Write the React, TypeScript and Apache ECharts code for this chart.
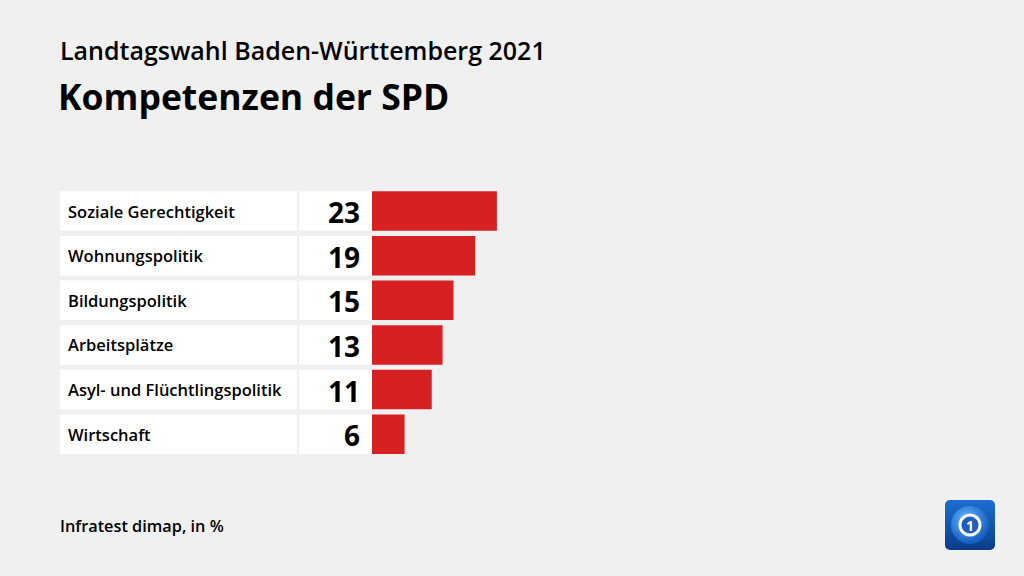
import React, { useEffect, useRef } from "react";
import * as echarts from "echarts";

const categories = [
  "Soziale Gerechtigkeit",
  "Wohnungspolitik",
  "Bildungspolitik",
  "Arbeitsplätze",
  "Asyl- und Flüchtlingspolitik",
  "Wirtschaft",
];
const values = [23, 19, 15, 13, 11, 6];

const title = "Landtagswahl Baden-Württemberg 2021";
const subtitle = "Kompetenzen der SPD";
const source = "Infratest dimap, in %";

const FONT = "'Open Sans', sans-serif";

export default function App() {
  const ref = useRef<HTMLDivElement>(null);
  useEffect(() => {
    document.body.style.margin = "0";
    if (!ref.current) return;
    const chart = echarts.init(ref.current, undefined, { renderer: "svg" });
    chart.setOption({
      animation: false,
      backgroundColor: "#f0f0f0",
      grid: { left: 372, width: 543, top: 188.7, height: 267.8 },
      xAxis: { type: "value", min: 0, max: 100, show: false },
      yAxis: {
        type: "category",
        data: categories,
        inverse: true,
        show: false,
      },
      series: [
        {
          type: "custom",
          data: values.map((v, i) => [v, i]),
          encode: { x: 0, y: 1 },
          z: 1,
          renderItem: (params: any, api: any) => {
            const v = api.value(0);
            const i = api.value(1);
            const [x0, yc] = api.coord([0, i]);
            const band = api.size([0, 1])[1];
            const h = band * 0.885;
            const top = yc - h / 2;
            return {
              type: "group",
              children: [
                {
                  type: "rect",
                  shape: { x: x0 - 312, y: top, width: 237, height: h },
                  style: { fill: "#ffffff" },
                },
                {
                  type: "rect",
                  shape: { x: x0 - 73, y: top, width: 73, height: h },
                  style: { fill: "#ffffff" },
                },
                {
                  type: "text",
                  style: {
                    x: x0 - 304,
                    y: yc,
                    text: categories[i],
                    fill: "#000",
                    font: `600 16.5px ${FONT}`,
                    verticalAlign: "middle",
                    align: "left",
                  },
                },
                {
                  type: "text",
                  style: {
                    x: x0 - 12,
                    y: yc + 1,
                    text: String(v),
                    fill: "#000",
                    font: `700 28px ${FONT}`,
                    verticalAlign: "middle",
                    align: "right",
                  },
                },
              ],
            };
          },
        },
        {
          type: "bar",
          data: values,
          barWidth: "88.5%",
          itemStyle: { color: "#d62022" },
          z: 2,
        },
      ],
      graphic: [
        {
          type: "text",
          left: 60,
          top: 37,
          style: { text: title, fill: "#000", font: `600 25px ${FONT}` },
        },
        {
          type: "text",
          left: 58,
          top: 78,
          style: { text: subtitle, fill: "#000", font: `700 35.5px ${FONT}` },
        },
        {
          type: "text",
          left: 60,
          top: 518,
          style: { text: source, fill: "#000", font: `600 16.3px ${FONT}` },
        },
        {
          type: "group",
          left: 945,
          top: 500,
          children: [
            {
              type: "rect",
              shape: { x: 0, y: 0, width: 50, height: 50, r: 5 },
              style: {
                fill: new echarts.graphic.LinearGradient(0, 0, 0, 1, [
                  { offset: 0, color: "#1b6fd0" },
                  { offset: 1, color: "#0a3c8c" },
                ]),
              },
            },
            {
              type: "circle",
              shape: { cx: 25, cy: 25, r: 19 },
              style: {
                fill: new echarts.graphic.RadialGradient(0.4, 0.35, 0.7, [
                  { offset: 0, color: "#5fb4ff" },
                  { offset: 1, color: "#0d56b8" },
                ]),
              },
            },
            {
              type: "circle",
              shape: { cx: 25, cy: 25, r: 10 },
              style: { fill: "#1a5fb8", stroke: "#ffffff", lineWidth: 3 },
            },
            {
              type: "text",
              style: {
                x: 25,
                y: 25,
                text: "1",
                fill: "#ffffff",
                font: `700 14px ${FONT}`,
                align: "center",
                verticalAlign: "middle",
              },
            },
          ],
        },
      ],
    });
    return () => chart.dispose();
  }, []);
  return <div ref={ref} style={{ width: 1024, height: 576 }} />;
}
